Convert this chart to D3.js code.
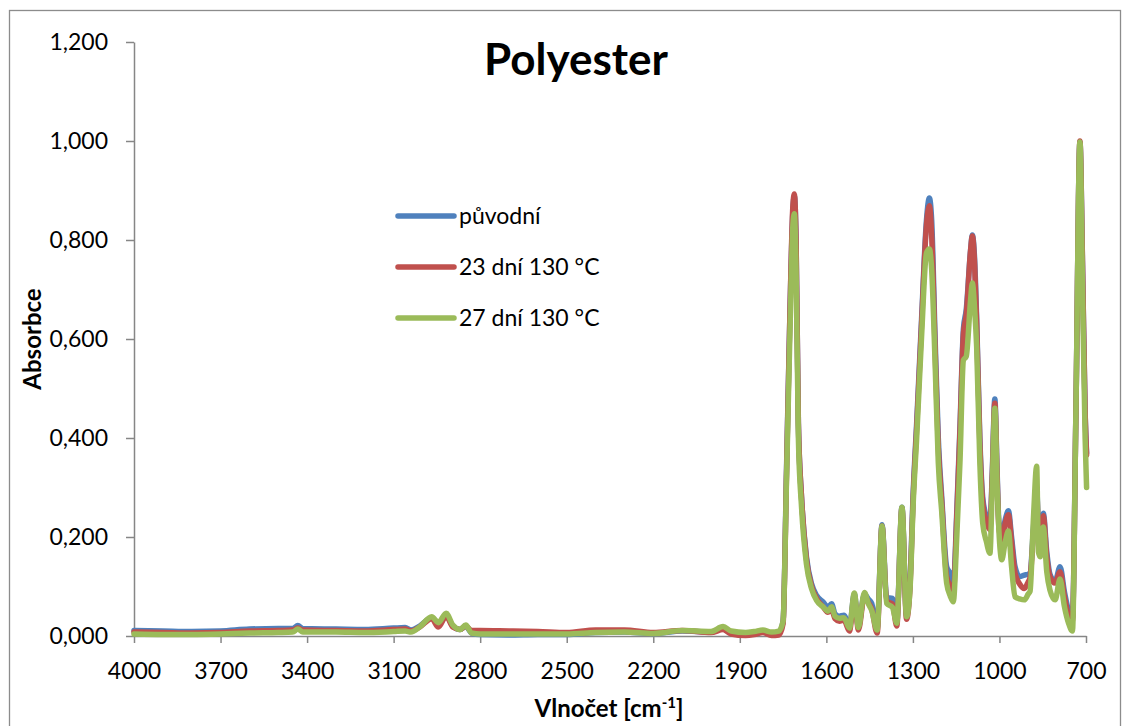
<!DOCTYPE html>
<html>
<head>
<meta charset="utf-8">
<script src="https://cdn.jsdelivr.net/npm/d3@7"></script>
<style>
  body { margin: 0; background: #fff; }
  svg { font-family: Lato, "Open Sans", sans-serif; }
</style>
</head>
<body>
<script>
// wavenumbers (cm-1) shared by all three spectra
const wavenumbers = [4000, 3900, 3800, 3700, 3600, 3500, 3450, 3432, 3415, 3300, 3200, 3100, 3060, 3040, 3010,
  2968, 2945, 2918, 2895, 2870, 2850, 2830, 2800, 2700, 2600, 2500, 2400, 2300, 2200, 2100, 2000, 1958, 1930,
  1880, 1850, 1820, 1790, 1765, 1750, 1738, 1726, 1716, 1711, 1705, 1697, 1686, 1669, 1651, 1634, 1610, 1595,
  1582, 1570, 1555, 1539, 1520, 1503, 1489, 1468, 1455, 1443, 1424, 1407, 1391, 1371, 1356, 1338, 1322, 1310,
  1299, 1287, 1270, 1253, 1243, 1235, 1223, 1212, 1200, 1183, 1170, 1160, 1148, 1137, 1125, 1115, 1100, 1094,
  1086, 1079, 1068, 1058, 1045, 1033, 1025, 1016, 1008, 1002, 992, 980, 969, 958, 946, 930, 914, 900, 894, 882,
  871, 865, 859, 848, 836, 825, 807, 790, 775, 760, 747, 735, 721, 712, 703, 698];

const puvodni = [0.011, 0.010, 0.009, 0.010, 0.014, 0.015, 0.015, 0.021, 0.015, 0.014, 0.013, 0.016, 0.017, 0.012, 0.020,
  0.037, 0.022, 0.042, 0.020, 0.013, 0.020, 0.006, 0.003, 0.002, 0.003, 0.003, 0.007, 0.008, 0.005, 0.010, 0.008, 0.016, 0.008,
  0.004, 0.006, 0.010, 0.005, 0.006, 0.030, 0.34, 0.66, 0.86, 0.89, 0.80, 0.43, 0.28, 0.16, 0.105, 0.082, 0.068, 0.058,
  0.065, 0.045, 0.040, 0.042, 0.018, 0.085, 0.020, 0.085, 0.075, 0.066, 0.016, 0.225, 0.078, 0.076, 0.028, 0.26, 0.042, 0.11,
  0.29, 0.43, 0.64, 0.84, 0.885, 0.84, 0.60, 0.40, 0.28, 0.14, 0.125, 0.10, 0.25, 0.42, 0.62, 0.66, 0.78, 0.81,
  0.76, 0.64, 0.40, 0.28, 0.24, 0.22, 0.33, 0.479, 0.33, 0.23, 0.20, 0.235, 0.253, 0.20, 0.14, 0.12, 0.123, 0.125, 0.127, 0.22,
  0.30, 0.22, 0.20, 0.248, 0.17, 0.125, 0.11, 0.14, 0.09, 0.05, 0.035, 0.45, 0.998, 0.75, 0.45, 0.37];

const dni23 = [0.008, 0.007, 0.006, 0.007, 0.010, 0.011, 0.012, 0.016, 0.012, 0.011, 0.010, 0.013, 0.014, 0.010, 0.018,
  0.035, 0.018, 0.040, 0.018, 0.013, 0.020, 0.011, 0.011, 0.010, 0.009, 0.007, 0.012, 0.012, 0.007, 0.011, 0.007, 0.013, 0.004,
  0.001, 0.003, 0.007, 0.001, 0.002, 0.025, 0.33, 0.66, 0.87, 0.893, 0.80, 0.43, 0.28, 0.155, 0.10, 0.076, 0.058, 0.048,
  0.053, 0.035, 0.030, 0.032, 0.010, 0.080, 0.012, 0.082, 0.068, 0.055, 0.006, 0.222, 0.070, 0.065, 0.020, 0.258, 0.034, 0.10,
  0.28, 0.42, 0.63, 0.83, 0.869, 0.81, 0.58, 0.38, 0.27, 0.12, 0.10, 0.085, 0.24, 0.41, 0.61, 0.65, 0.78, 0.808,
  0.75, 0.63, 0.39, 0.27, 0.23, 0.215, 0.32, 0.47, 0.32, 0.22, 0.194, 0.228, 0.245, 0.19, 0.127, 0.105, 0.096, 0.11, 0.118, 0.21,
  0.30, 0.20, 0.19, 0.243, 0.16, 0.12, 0.107, 0.13, 0.08, 0.04, 0.03, 0.45, 1.0, 0.75, 0.45, 0.366];

const dni27 = [0.004, 0.003, 0.003, 0.004, 0.006, 0.007, 0.008, 0.014, 0.008, 0.008, 0.007, 0.009, 0.010, 0.008, 0.018,
  0.039, 0.027, 0.046, 0.022, 0.013, 0.022, 0.006, 0.004, 0.004, 0.004, 0.004, 0.007, 0.008, 0.005, 0.011, 0.009, 0.019, 0.010,
  0.007, 0.009, 0.012, 0.008, 0.010, 0.030, 0.32, 0.62, 0.83, 0.853, 0.74, 0.40, 0.26, 0.145, 0.095, 0.072, 0.058, 0.050,
  0.059, 0.040, 0.036, 0.037, 0.016, 0.087, 0.017, 0.088, 0.066, 0.052, 0.012, 0.222, 0.066, 0.058, 0.026, 0.26, 0.039, 0.095,
  0.268, 0.40, 0.605, 0.774, 0.782, 0.74, 0.55, 0.35, 0.25, 0.107, 0.08, 0.069, 0.20, 0.35, 0.557, 0.565, 0.68, 0.713,
  0.66, 0.584, 0.35, 0.228, 0.19, 0.167, 0.30, 0.46, 0.30, 0.214, 0.154, 0.19, 0.212, 0.14, 0.079, 0.075, 0.073, 0.085, 0.09, 0.24,
  0.343, 0.17, 0.16, 0.22, 0.13, 0.093, 0.073, 0.115, 0.06, 0.025, 0.01, 0.45, 0.998, 0.70, 0.40, 0.30];

const seriesNames = ["původní", "23 dní 130 °C", "27 dní 130 °C"];
const seriesColors = ["#4F81BD", "#C0504D", "#9BBB59"];
const xTicks = [4000, 3700, 3400, 3100, 2800, 2500, 2200, 1900, 1600, 1300, 1000, 700];
const yTicks = [0, 0.2, 0.4, 0.6, 0.8, 1.0, 1.2];

const W = 1131, H = 726;
const plotLeft = 134, plotRight = 1086, plotTop = 42, plotBottom = 636;

const svg = d3.select("body").append("svg")
  .attr("width", W)
  .attr("height", H);

svg.append("rect")
  .attr("x", 9.5).attr("y", 10.5)
  .attr("width", 1111).attr("height", 740)
  .attr("fill", "#fff")
  .attr("stroke", "#8c8c8c")
  .attr("stroke-width", 1.3);

const x = d3.scaleLinear().domain([4000, 700]).range([plotLeft, plotRight]);
const y = d3.scaleLinear().domain([0, 1.2]).range([plotBottom, plotTop]);

const fmt = v => d3.format(".3f")(v).replace(".", ",");

const yAxis = svg.append("g")
  .attr("transform", `translate(${plotLeft},0)`)
  .call(d3.axisLeft(y).tickValues(yTicks).tickFormat(fmt).tickSizeInner(8).tickSizeOuter(0).tickPadding(18));

const xAxis = svg.append("g")
  .attr("transform", `translate(0,${plotBottom})`)
  .call(d3.axisBottom(x).tickValues(xTicks).tickFormat(d3.format("d")).tickSizeInner(7).tickSizeOuter(0).tickPadding(20));

[xAxis, yAxis].forEach(g => {
  g.select(".domain").attr("stroke", "#868686").attr("stroke-width", 1.5);
  g.selectAll(".tick line").attr("stroke", "#868686").attr("stroke-width", 1.5);
  g.selectAll(".tick text")
    .attr("fill", "#000")
    .style("font-family", "Lato, 'Open Sans', sans-serif")
    .style("font-size", "23px");
});

const line = d3.line()
  .x((d, i) => x(wavenumbers[i]))
  .y(d => y(d))
  .curve(d3.curveMonotoneX);

[puvodni, dni23, dni27].forEach((vals, k) => {
  svg.append("path")
    .datum(vals)
    .attr("d", line)
    .attr("fill", "none")
    .attr("stroke", seriesColors[k])
    .attr("stroke-width", 5.5)
    .attr("stroke-linejoin", "round")
    .attr("stroke-linecap", "round");
});

// legend
const legend = svg.append("g").attr("transform", "translate(398,216)");
seriesNames.forEach((name, i) => {
  legend.append("line")
    .attr("x1", 0).attr("x2", 56)
    .attr("y1", i * 51).attr("y2", i * 51)
    .attr("stroke", seriesColors[i])
    .attr("stroke-width", 5.5)
    .attr("stroke-linecap", "round");
  legend.append("text")
    .attr("x", 61).attr("y", i * 51)
    .attr("dy", "0.36em")
    .style("font-size", "23px")
    .text(name);
});

// titles
svg.append("text")
  .attr("x", 576).attr("y", 75)
  .attr("text-anchor", "middle")
  .style("font-size", "44px")
  .style("font-weight", "bold")
  .text("Polyester");

svg.append("text")
  .attr("transform", "translate(41,339) rotate(-90)")
  .attr("text-anchor", "middle")
  .style("font-size", "24px")
  .style("font-weight", "bold")
  .text("Absorbce");

const xt = svg.append("text")
  .attr("x", 609).attr("y", 717)
  .attr("text-anchor", "middle")
  .style("font-size", "24px")
  .style("font-weight", "bold");
xt.append("tspan").text("Vlnočet [cm");
xt.append("tspan").attr("dy", -9).style("font-size", "15px").text("-1");
xt.append("tspan").attr("dy", 9).text("]");
</script>
</body>
</html>
